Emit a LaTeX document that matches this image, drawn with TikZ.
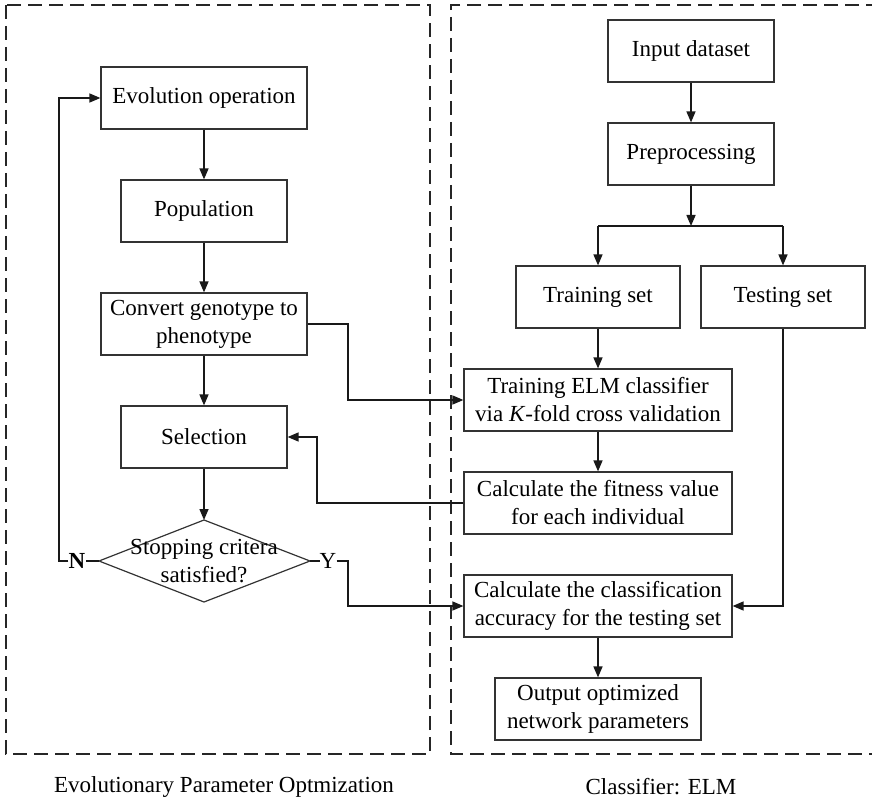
\documentclass[tikz,border=0pt]{standalone}
\usepackage{fontspec}
\setmainfont{Liberation Serif}
\usetikzlibrary{arrows.meta}
\begin{document}
\begin{tikzpicture}[x=1pt,y=-1pt,
  box/.style={draw=black!80, line width=1.2pt, rectangle, inner sep=0pt, align=center,
    font=\fontsize{23}{28}\selectfont, text=black},
  conn/.style={line width=1.5pt, draw=black!90},
  arr/.style={conn, -{Triangle[length=11pt,width=9pt]}},
  frame/.style={line width=1.6pt, draw=black!85, dash pattern=on 14pt off 7pt},
  lbl/.style={font=\fontsize{23}{28}\selectfont, inner sep=0pt, text=black}]
\useasboundingbox (0,0) rectangle (872,802);
% frames
\draw[frame] (6,5) rectangle (430,754);
\draw[frame] (880,5) -- (451,5) -- (451,754) -- (880,754);
% left column
\node[box, minimum width=206pt, minimum height=62pt] (evo) at (204,98) {Evolution operation};
\node[box, minimum width=166pt, minimum height=62pt] (pop) at (204,211) {Population};
\node[box, minimum width=206pt, minimum height=62pt] (conv) at (204,324) {Convert genotype to\\phenotype};
\node[box, minimum width=166pt, minimum height=62pt] (sel) at (204,437) {Selection};
\coordinate (dT) at (204,520);
\coordinate (dB) at (204,602);
\coordinate (dL) at (99,561);
\coordinate (dR) at (310,561);
\draw[draw=black!80, line width=1.2pt] (dT) -- (dR) -- (dB) -- (dL) -- cycle;
\node[lbl, align=center] (stop) at (204,561) {Stopping critera\\satisfied?};
\node[lbl, font=\fontsize{23}{28}\selectfont\bfseries] (N) at (77,561) {N};
\node[lbl] (Y) at (328,561) {Y};
% right column
\node[box, minimum width=166pt, minimum height=62pt] (inp) at (691,51) {Input dataset};
\node[box, minimum width=166pt, minimum height=62pt] (pre) at (691,154) {Preprocessing};
\node[box, minimum width=164pt, minimum height=62pt] (train) at (598,297) {Training set};
\node[box, minimum width=164pt, minimum height=62pt] (test) at (783,297) {Testing set};
\node[box, minimum width=268pt, minimum height=62pt] (elm) at (598,400) {Training ELM classifier\\via \textit{K}-fold cross validation};
\node[box, minimum width=268pt, minimum height=62pt] (fit) at (598,503) {Calculate the fitness value\\for each individual};
\node[box, minimum width=268pt, minimum height=62pt] (acc) at (598,606) {Calculate the classification\\accuracy for the testing set};
\node[box, minimum width=206pt, minimum height=62pt] (out) at (598,709) {Output optimized\\network parameters};
% captions
\node[lbl] (capL) at (224,787) {Evolutionary Parameter Optmization};
\node[lbl] (capR) at (661,787) {Classifier: ELM};
% connectors left
\draw[arr] (evo) -- (pop);
\draw[arr] (pop) -- (conv);
\draw[arr] (conv) -- (sel);
\draw[arr] (sel.south) -- (dT);
\draw[conn] (dL) -- (N.east);
\draw[arr] (N.west) -- (59,561) -- (59,98) -- (evo.west);
\draw[conn] (dR) -- (Y.west);
\draw[arr] (Y.east) -- (348,561) -- (348,606) -- (acc.west);
\draw[arr] (conv.east) -- (348,324) -- (348,400) -- (elm.west);
\draw[arr] (fit.west) -- (317,503) -- (317,437) -- (sel.east);
% connectors right
\draw[arr] (inp) -- (pre);
\coordinate (split) at (691,226);
\draw[arr] (pre.south) -- (split);
\draw[conn] (train.north |- split) -- (test.north |- split);
\draw[arr] (train.north |- split) -- (train.north);
\draw[arr] (test.north |- split) -- (test.north);
\draw[arr] (train) -- (elm);
\draw[arr] (elm) -- (fit);
\draw[arr] (test.south) -- (test.south |- acc.east) -- (acc.east);
\draw[arr] (acc) -- (out);
\end{tikzpicture}
\end{document}
